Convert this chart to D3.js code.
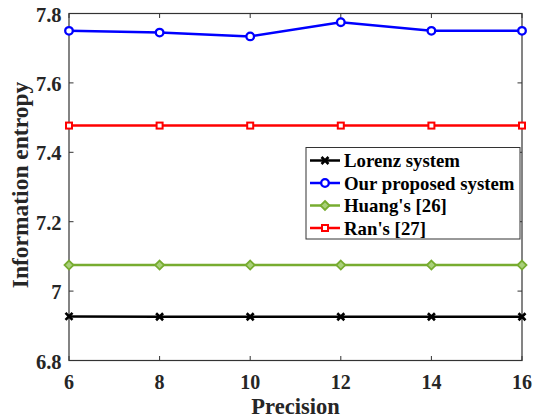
<!DOCTYPE html>
<html>
<head>
<meta charset="utf-8">
<script src="https://cdn.jsdelivr.net/npm/d3@7"></script>
<style>
  body { margin: 0; background: #fff; }
  text { font-family: 'Liberation Serif', 'Times New Roman', serif; font-weight: bold; fill: #262626; }
</style>
</head>
<body>
<svg id="chart" width="534" height="420"></svg>
<script>
// data
const precision = [6, 8, 10, 12, 14, 16]
const lorenz = [6.927, 6.926, 6.926, 6.926, 6.926, 6.926]
const proposed = [7.750, 7.745, 7.734, 7.775, 7.750, 7.750]
const huang = [7.075, 7.075, 7.075, 7.075, 7.075, 7.075]
const ran = [7.477, 7.477, 7.477, 7.477, 7.477, 7.477]
const yTicks = [6.8, 7, 7.2, 7.4, 7.6, 7.8]
const seriesNames = ['Lorenz system', 'Our proposed system', "Huang's [26]", "Ran's [27]"]

const series = [
  { name: seriesNames[0], values: lorenz, color: '#000000', marker: 'cross' },
  { name: seriesNames[1], values: proposed, color: '#0000ff', marker: 'circle' },
  { name: seriesNames[2], values: huang, color: '#77ac30', marker: 'diamond' },
  { name: seriesNames[3], values: ran, color: '#ff0000', marker: 'square' }
]

const margin = { top: 13.5, right: 12, bottom: 59.5, left: 69 }
const width = 534, height = 420

const svg = d3.select('#chart')

let x = d3.scaleLinear()
  .domain([6, 16])
  .range([margin.left, width - margin.right])

let y = d3.scaleLinear()
  .domain([6.8, 7.8])
  .range([height - margin.bottom, margin.top])

// box
svg.append('rect')
  .attr('x', margin.left)
  .attr('y', margin.top)
  .attr('width', width - margin.left - margin.right)
  .attr('height', height - margin.top - margin.bottom)
  .style('fill', 'none')
  .style('stroke', '#333')
  .style('stroke-width', 1.2)

let tickLen = 4.5

// inward ticks on all four sides
let xt = svg.append('g')
xt.selectAll('line.b').data(precision).enter().append('line')
  .attr('x1', d => x(d)).attr('x2', d => x(d))
  .attr('y1', y(6.8)).attr('y2', y(6.8) - tickLen)
  .style('stroke', '#333')
xt.selectAll('line.t').data(precision).enter().append('line')
  .attr('x1', d => x(d)).attr('x2', d => x(d))
  .attr('y1', y(7.8)).attr('y2', y(7.8) + tickLen)
  .style('stroke', '#333')
xt.selectAll('text').data(precision).enter().append('text')
  .attr('x', d => x(d))
  .attr('y', y(6.8) + 28.5)
  .attr('text-anchor', 'middle')
  .style('font-size', '20px')
  .text(d => d)

let yt = svg.append('g')
yt.selectAll('line.l').data(yTicks).enter().append('line')
  .attr('x1', x(6)).attr('x2', x(6) + tickLen)
  .attr('y1', d => y(d)).attr('y2', d => y(d))
  .style('stroke', '#333')
yt.selectAll('line.r').data(yTicks).enter().append('line')
  .attr('x1', x(16)).attr('x2', x(16) - tickLen)
  .attr('y1', d => y(d)).attr('y2', d => y(d))
  .style('stroke', '#333')
yt.selectAll('text').data(yTicks).enter().append('text')
  .attr('x', x(6) - 7.5)
  .attr('y', d => y(d) + 8)
  .attr('text-anchor', 'end')
  .style('font-size', '20.5px')
  .text(d => d3.format('.1f')(d).replace(/^7\.0$/, '7'))

// axis titles
svg.append('text')
  .attr('x', (x(6) + x(16)) / 2)
  .attr('y', 414)
  .attr('text-anchor', 'middle')
  .style('font-size', '22.5px')
  .text('Precision')

svg.append('text')
  .attr('transform', `translate(${ 28 },${ 185 }) rotate(-90)`)
  .attr('text-anchor', 'middle')
  .style('font-size', '23.5px')
  .text('Information entropy')

function drawMarker(g, type, color) {
  if (type === 'circle') {
    g.append('circle').attr('r', 3.8)
      .style('fill', '#fff').style('stroke', color).style('stroke-width', 2.3)
  } else if (type === 'square') {
    g.append('rect').attr('x', -3).attr('y', -3).attr('width', 6).attr('height', 6)
      .style('fill', '#fff').style('stroke', color).style('stroke-width', 2)
  } else if (type === 'diamond') {
    g.append('path').attr('d', 'M0,-4.5L4.5,0L0,4.5L-4.5,0Z')
      .style('fill', '#a9d07a').style('stroke', color).style('stroke-width', 1.8)
  } else {
    g.append('path').attr('d', 'M-3.5,-3.5L3.5,3.5M-3.5,3.5L3.5,-3.5')
      .style('stroke', color).style('stroke-width', 2.6)
  }
}

let line = d3.line()
  .x((d, i) => x(precision[i]))
  .y(d => y(d))

series.forEach(s => {
  svg.append('path')
    .datum(s.values)
    .attr('d', line)
    .style('fill', 'none')
    .style('stroke', s.color)
    .style('stroke-width', 2.5)

  s.values.forEach((v, i) => {
    let g = svg.append('g').attr('transform', `translate(${ x(precision[i]) },${ y(v) })`)
    drawMarker(g, s.marker, s.color)
  })
})

// legend
let legend = svg.append('g').attr('class', 'legend')
legend.append('rect')
  .attr('x', 306)
  .attr('y', 147.5)
  .attr('width', 214)
  .attr('height', 91.5)
  .style('fill', '#fff')
  .style('stroke', '#333')
  .style('stroke-width', 1)

series.forEach((s, i) => {
  let ly = 160.5 + i * 22.5
  let row = legend.append('g')
  row.append('line')
    .attr('x1', 310).attr('x2', 340)
    .attr('y1', ly).attr('y2', ly)
    .style('stroke', s.color).style('stroke-width', 2.5)
  let g = row.append('g').attr('transform', `translate(${ 325 },${ ly })`)
  drawMarker(g, s.marker, s.color)
  row.append('text')
    .attr('x', 344)
    .attr('y', ly + 6.5)
    .style('font-size', '18.8px')
    .style('fill', '#000')
    .text(s.name)
})
</script>
</body>
</html>
